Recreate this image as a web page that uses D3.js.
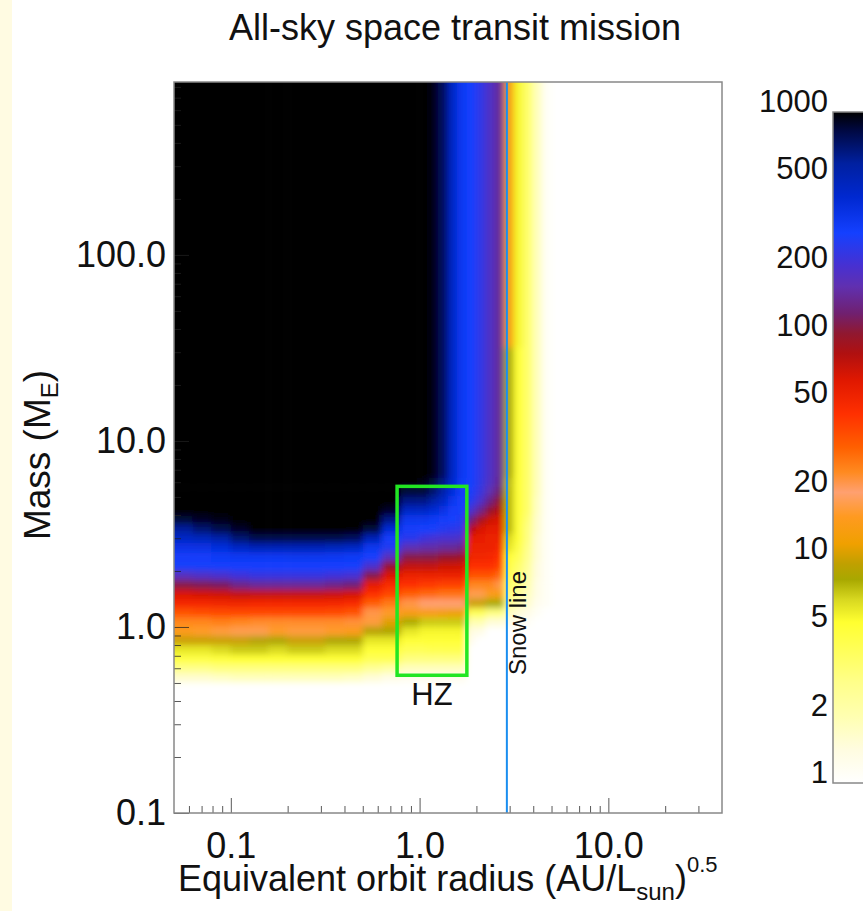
<!DOCTYPE html>
<html>
<head>
<meta charset="utf-8">
<script src="https://cdn.jsdelivr.net/npm/d3@7"></script>
<style>
  html, body { margin: 0; padding: 0; background: #fff; }
  svg { display: block; font-family: 'Liberation Sans', Arial, Helvetica, sans-serif; }
</style>
</head>
<body>
<div id="vis"></div>
<script>
// column edges, log10 of (AU/Lsun)^0.5
var radiusEdges = [-1.3, -1.2, -1.1, -1.0, -0.9, -0.8, -0.7, -0.6, -0.5, -0.4, -0.3, -0.2, -0.1, 0.0,
    0.05, 0.1, 0.15, 0.2, 0.25, 0.3, 0.35, 0.4, 0.45, 0.5, 0.55, 0.6, 0.65, 0.7, 1.6];
// row edges, log10 of Earth masses, top to bottom
var massEdges = [2.93, 1.5, 0.8, 0.75, 0.7, 0.65, 0.6, 0.55, 0.5, 0.45, 0.4, 0.35, 0.3, 0.25, 0.2,
    0.15, 0.1, 0.05, 0.0, -0.05, -0.1, -0.15, -0.2, -0.25, -0.3, -1.0];

// number of detections per cell, one array per column, rows top to bottom
var columnCounts = [
    [1000, 1000, 1000, 1000, 1000, 1000, 850, 600, 450, 350, 300, 280, 180, 110, 65, 50, 35, 25, 15, 10, 6, 4.5, 2.8, 1.6, 1],
    [1000, 1000, 1000, 1000, 1000, 1000, 900, 700, 480, 360, 300, 280, 190, 115, 68, 50, 36, 25, 16, 10, 6, 4.5, 2.8, 1.6, 1],
    [1000, 1000, 1000, 1000, 1000, 1000, 950, 800, 550, 380, 310, 285, 200, 120, 70, 52, 37, 26, 17, 10, 6.5, 4.7, 3, 1.7, 1],
    [1000, 1000, 1000, 1000, 1000, 1000, 1000, 900, 700, 450, 320, 290, 220, 140, 75, 52, 38, 25, 18, 10, 7, 5, 3, 1.8, 1],
    [1000, 1000, 1000, 1000, 1000, 1000, 1000, 1000, 800, 500, 320, 290, 230, 150, 75, 50, 38, 24, 18, 9, 7, 5, 3, 1.8, 1],
    [1000, 1000, 1000, 1000, 1000, 1000, 1000, 1000, 800, 500, 320, 290, 230, 150, 75, 50, 38, 24, 16, 8.5, 6.5, 5, 3, 1.8, 1],
    [1000, 1000, 1000, 1000, 1000, 1000, 1000, 1000, 800, 500, 330, 290, 230, 150, 75, 50, 38, 24, 17, 10, 7, 5, 3, 1.8, 1],
    [1000, 1000, 1000, 1000, 1000, 1000, 1000, 1000, 800, 500, 330, 290, 230, 150, 75, 50, 38, 24, 17, 10, 7, 5, 3, 1.8, 1],
    [1000, 1000, 1000, 1000, 1000, 1000, 1000, 1000, 800, 480, 320, 290, 220, 140, 72, 50, 37, 24, 16, 8.5, 6.5, 5, 3, 1.8, 1],
    [1000, 1000, 1000, 1000, 1000, 1000, 1000, 1000, 750, 450, 310, 285, 210, 130, 68, 48, 35, 23, 15, 8.5, 6.5, 5, 3, 1.7, 1],
    [1000, 1000, 1000, 1000, 1000, 1000, 1000, 850, 500, 330, 290, 200, 110, 60, 45, 32, 22, 17, 9, 6, 5, 4, 2.5, 1.5, 1],
    [1000, 1000, 1000, 1000, 1000, 900, 650, 400, 300, 260, 180, 100, 65, 48, 38, 27, 16, 11, 8.5, 6, 5, 4, 2.2, 1.3, 1],
    [1000, 1000, 1000, 850, 650, 450, 330, 300, 250, 170, 110, 75, 55, 45, 32, 22, 14, 8, 6, 5, 4, 3, 1.8, 1.2, 1],
    [1000, 1000, 950, 850, 650, 450, 330, 290, 220, 160, 110, 75, 55, 42, 30, 20, 14, 7, 5.5, 5, 4, 3, 1.8, 1.2, 1],
    [950, 950, 850, 700, 550, 400, 310, 280, 210, 160, 110, 75, 55, 42, 30, 20, 14, 7, 5.5, 5, 4.2, 3, 1.8, 1.2, 1],
    [750, 750, 650, 550, 450, 360, 300, 260, 200, 150, 100, 70, 55, 40, 28, 20, 13, 7, 5.5, 5, 4.2, 3, 1.8, 1.2, 1],
    [450, 450, 420, 380, 330, 300, 285, 250, 200, 150, 100, 70, 55, 40, 28, 20, 12, 7, 5.5, 5, 4.2, 3, 1.8, 1.2, 1],
    [320, 320, 310, 300, 290, 280, 265, 240, 190, 140, 95, 68, 55, 40, 28, 20, 12, 7, 5.5, 5, 4.2, 3, 1.8, 1.2, 1],
    [290, 290, 285, 275, 255, 200, 130, 80, 60, 55, 52, 45, 35, 25, 18, 10, 4, 2, 1.4, 1.2, 1, 1, 1, 1, 1],
    [240, 240, 235, 225, 195, 140, 90, 65, 58, 55, 52, 45, 35, 25, 18, 10, 4, 2, 1.3, 1, 1, 1, 1, 1, 1],
    [190, 190, 185, 165, 135, 100, 70, 60, 55, 55, 50, 45, 35, 25, 15, 8, 3, 1.5, 1, 1, 1, 1, 1, 1, 1],
    [150, 150, 145, 125, 100, 80, 65, 60, 55, 50, 45, 40, 30, 22, 14, 8, 3, 1.5, 1, 1, 1, 1, 1, 1, 1],
    [13, 8, 7.5, 7.5, 7.5, 7.5, 7.5, 7.5, 6.5, 6, 5, 4.5, 4, 3.5, 3, 2.5, 1.8, 1.3, 1, 1, 1, 1, 1, 1, 1],
    [5.5, 5, 5, 5, 5, 5, 5, 5, 5, 4.5, 4, 3.5, 3.2, 3, 2.5, 2, 1.5, 1.2, 1, 1, 1, 1, 1, 1, 1],
    [3.5, 3.5, 3.5, 3.5, 3.5, 3.5, 3.2, 3, 3, 2.8, 2.6, 2.4, 2.2, 2, 1.8, 1.6, 1.3, 1.1, 1, 1, 1, 1, 1, 1, 1],
    [1.8, 1.8, 1.8, 1.8, 1.7, 1.7, 1.6, 1.6, 1.5, 1.5, 1.5, 1.4, 1.4, 1.3, 1.3, 1.2, 1.1, 1, 1, 1, 1, 1, 1, 1, 1],
    [1.1, 1.1, 1.1, 1.1, 1.1, 1.1, 1.1, 1.1, 1.1, 1.1, 1.1, 1.1, 1.1, 1.1, 1.1, 1.1, 1, 1, 1, 1, 1, 1, 1, 1, 1],
    [1, 1, 1, 1, 1, 1, 1, 1, 1, 1, 1, 1, 1, 1, 1, 1, 1, 1, 1, 1, 1, 1, 1, 1, 1]
];

// colour table, keyed by log10(count)
var colourStops = [0.0, 0.15, 0.30, 0.45, 0.59, 0.72, 0.82, 0.91, 0.98, 1.07, 1.19, 1.30, 1.39, 1.50,
    1.65, 1.80, 1.92, 2.01, 2.10, 2.22, 2.31, 2.46, 2.62, 2.77, 2.92, 3.0];
var colourValues = ["#ffffff", "#fffce0", "#ffffb0", "#ffff8a", "#ffff5a", "#ffff30", "#d8d820", "#a8a800",
    "#c0a000", "#f0a000", "#ff9a20", "#ffa070", "#ff8a20", "#ff6000", "#ff3000", "#e01800", "#b01010",
    "#901830", "#702070", "#6030b0", "#4830d0", "#1440ff", "#0028d0", "#0020a0", "#000840", "#000000"];

var xMajor = [0.1, 1, 10];
var xMajorLabels = ["0.1", "1.0", "10.0"];
var xMinor = [0.06, 0.07, 0.08, 0.09, 0.2, 0.3, 0.4, 0.5, 0.6, 0.7, 0.8, 0.9, 2, 3, 4, 5, 6, 7, 8, 9, 20, 30];
var yMajor = [0.1, 1, 10, 100];
var yMajorLabels = ["0.1", "1.0", "10.0", "100.0"];
var yMinor = [0.2, 0.3, 0.4, 0.5, 0.6, 0.7, 0.8, 0.9, 2, 3, 4, 5, 6, 7, 8, 9, 20, 30, 40, 50, 60, 70, 80, 90,
    200, 300, 400, 500, 600, 700, 800];
var barTicks = [1000, 500, 200, 100, 50, 20, 10, 5, 2, 1];

var hzRadius = [0.76, 1.78];
var hzMass = [0.55, 5.7];
var snowLine = 2.9;

var W = 863, H = 911;
var pLeft = 174, pRight = 722, pTop = 82, pBottom = 813;

var svg = d3.select("#vis").append("svg")
    .attr("width", W)
    .attr("height", H);

svg.append("rect").attr("x", 0).attr("y", 0).attr("width", 12).attr("height", H).attr("fill", "#fffbe2");

var x = d3.scaleLog().domain([0.05, 40]).range([pLeft, pRight]);
var y = d3.scaleLog().domain([0.1, 850]).range([pBottom, pTop]);
var colour = d3.scaleLinear().domain(colourStops).range(colourValues).clamp(true);

var defs = svg.append("defs");
defs.append("clipPath").attr("id", "plotClip")
    .append("rect").attr("x", pLeft).attr("y", pTop).attr("width", pRight - pLeft).attr("height", pBottom - pTop);
defs.append("filter").attr("id", "soft")
    .attr("x", "-5%").attr("y", "-5%").attr("width", "110%").attr("height", "110%")
    .append("feGaussianBlur").attr("stdDeviation", 3);

// heat map cells
var cells = [];
columnCounts.forEach(function (col, i) {
    col.forEach(function (v, j) {
        var x0 = x(Math.pow(10, radiusEdges[i])), x1 = x(Math.pow(10, radiusEdges[i + 1]));
        var y0 = y(Math.pow(10, massEdges[j])), y1 = y(Math.pow(10, massEdges[j + 1]));
        if (i == 0) x0 -= 20;
        if (i == columnCounts.length - 1) x1 += 20;
        if (j == 0) y0 -= 20;
        if (j == col.length - 1) y1 += 20;
        cells.push({ x0: x0, x1: x1, y0: y0, y1: y1, v: v });
    });
});

svg.append("g").attr("clip-path", "url(#plotClip)")
    .append("g").attr("filter", "url(#soft)")
    .selectAll("rect").data(cells).enter().append("rect")
    .attr("x", d => d.x0 - 0.3)
    .attr("y", d => d.y0 - 0.3)
    .attr("width", d => d.x1 - d.x0 + 0.6)
    .attr("height", d => d.y1 - d.y0 + 0.6)
    .attr("fill", d => colour(Math.log10(d.v)));

// habitable zone box
svg.append("rect")
    .attr("x", x(hzRadius[0])).attr("y", y(hzMass[1]))
    .attr("width", x(hzRadius[1]) - x(hzRadius[0]))
    .attr("height", y(hzMass[0]) - y(hzMass[1]))
    .attr("fill", "none").attr("stroke", "#22e622").attr("stroke-width", 3.5);
svg.append("text")
    .attr("x", (x(hzRadius[0]) + x(hzRadius[1])) / 2).attr("y", y(hzMass[0]) + 30)
    .attr("text-anchor", "middle").attr("font-size", 31).attr("fill", "#111")
    .text("HZ");

// snow line
svg.append("line")
    .attr("x1", x(snowLine)).attr("x2", x(snowLine))
    .attr("y1", pTop).attr("y2", pBottom)
    .attr("stroke", "#1a8ef0").attr("stroke-width", 2);
svg.append("text")
    .attr("transform", "translate(" + (x(snowLine) + 19) + "," + 675 + ") rotate(-90)")
    .attr("font-size", 24).attr("fill", "#111")
    .text("Snow line");

// axes, ticks point inwards
var axisColour = "#222";
var gx = svg.append("g").attr("transform", "translate(0," + pBottom + ")");
gx.call(d3.axisBottom(x).tickValues(xMinor).tickSizeInner(-7).tickSizeOuter(0));
gx.selectAll(".domain, text").remove();
var gx2 = svg.append("g").attr("transform", "translate(0," + pBottom + ")");
gx2.call(d3.axisBottom(x).tickValues(xMajor).tickSizeInner(-15).tickSizeOuter(0).tickPadding(19)
    .tickFormat((d, i) => xMajorLabels[i]));
gx2.select(".domain").remove();

var gy = svg.append("g").attr("transform", "translate(" + pLeft + ",0)");
gy.call(d3.axisLeft(y).tickValues(yMinor).tickSizeInner(-7).tickSizeOuter(0));
gy.selectAll(".domain, text").remove();
var gy2 = svg.append("g").attr("transform", "translate(" + pLeft + ",0)");
gy2.call(d3.axisLeft(y).tickValues(yMajor).tickSizeInner(-15).tickSizeOuter(0).tickPadding(8)
    .tickFormat((d, i) => yMajorLabels[i]));
gy2.select(".domain").remove();

svg.selectAll(".tick line").attr("stroke", axisColour).attr("stroke-width", 1).attr("stroke-opacity", 0.75);
svg.selectAll(".tick text").attr("font-size", 36).attr("fill", "#111")
    .attr("font-family", "'Liberation Sans', Arial, sans-serif");

svg.append("rect")
    .attr("x", pLeft).attr("y", pTop).attr("width", pRight - pLeft).attr("height", pBottom - pTop)
    .attr("fill", "none").attr("stroke", "#888").attr("stroke-width", 1.5);

// titles
svg.append("text").attr("x", 455).attr("y", 40).attr("text-anchor", "middle")
    .attr("font-size", 36).attr("fill", "#111").text("All-sky space transit mission");

var xt = svg.append("text").attr("x", 178).attr("y", 891).attr("font-size", 36).attr("fill", "#111");
xt.append("tspan").text("Equivalent orbit radius (AU/L");
xt.append("tspan").attr("font-size", 24).attr("dy", 9).text("sun");
xt.append("tspan").attr("dy", -9).text(")");
xt.append("tspan").attr("font-size", 22).attr("dy", -19).text("0.5");

var yt = svg.append("text")
    .attr("transform", "translate(50,455) rotate(-90)")
    .attr("text-anchor", "middle").attr("font-size", 37).attr("fill", "#111");
yt.append("tspan").text("Mass (M");
yt.append("tspan").attr("font-size", 24).attr("dy", 8).text("E");
yt.append("tspan").attr("dy", -8).text(")");

// colour bar
var cb = d3.scaleLog().domain([1, 1000]).range([783, 112]);
var grad = defs.append("linearGradient").attr("id", "cbGrad")
    .attr("x1", 0).attr("y1", 1).attr("x2", 0).attr("y2", 0);
grad.selectAll("stop").data(colourStops).enter().append("stop")
    .attr("offset", d => d / 3)
    .attr("stop-color", (d, i) => colourValues[i]);
svg.append("rect")
    .attr("x", 833).attr("y", cb(1000)).attr("width", 40).attr("height", cb(1) - cb(1000))
    .attr("fill", "url(#cbGrad)").attr("stroke", "#888").attr("stroke-width", 1.5);
svg.append("g").selectAll("text").data(barTicks).enter().append("text")
    .attr("x", 828).attr("y", d => cb(d))
    .attr("text-anchor", "end").attr("font-size", 31).attr("fill", "#111")
    .text(d => d);
</script>
</body>
</html>
